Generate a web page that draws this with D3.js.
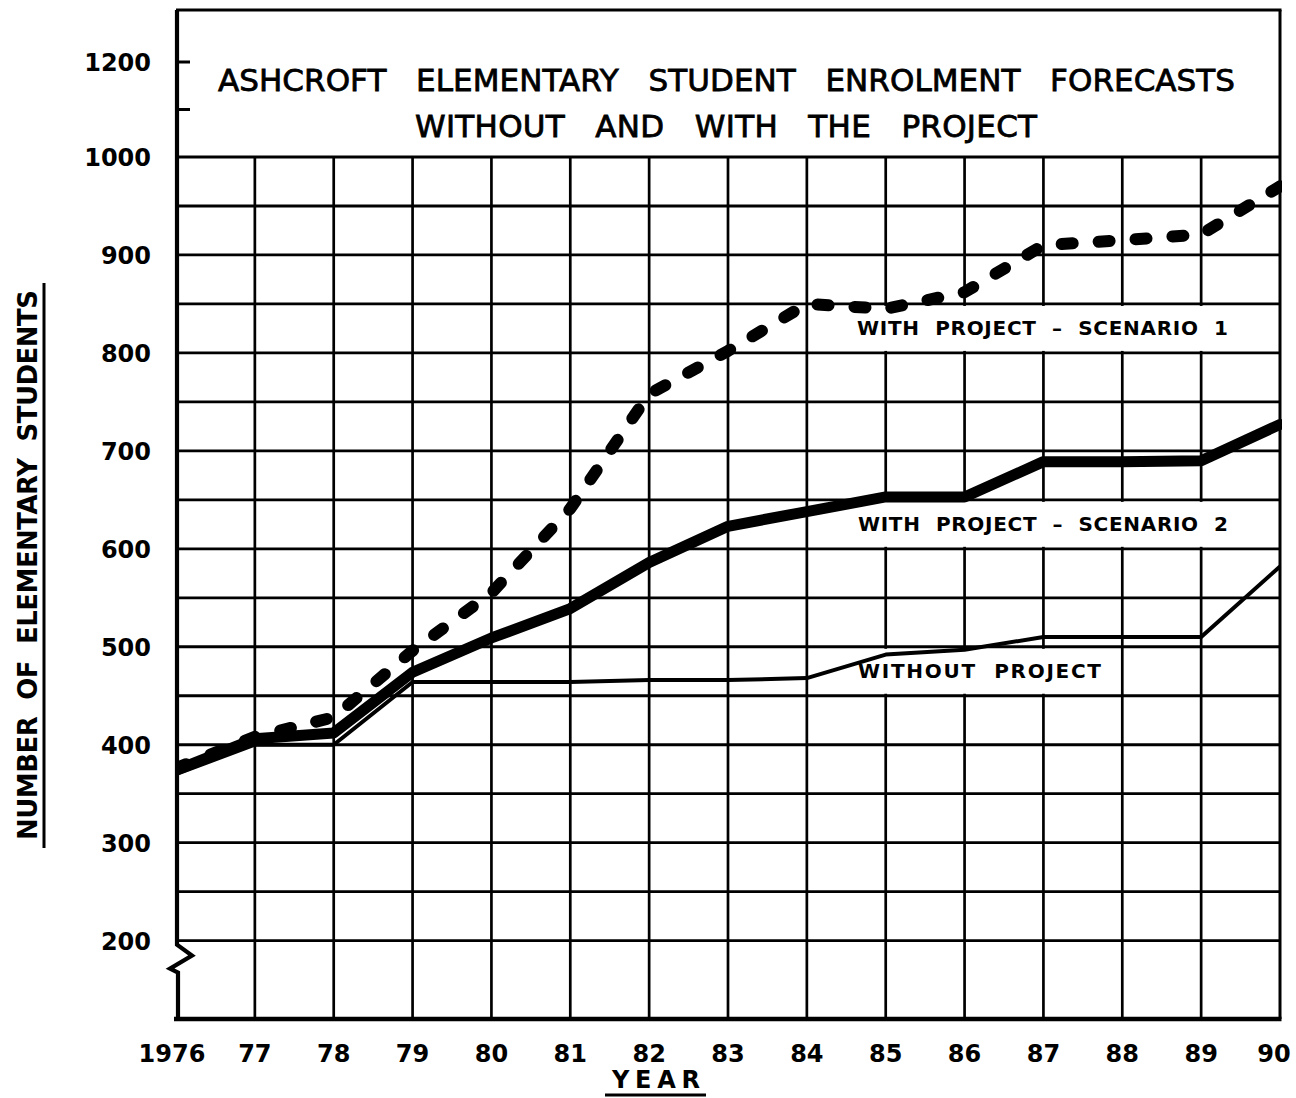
<!DOCTYPE html>
<html>
<head>
<meta charset="utf-8">
<script src="https://cdn.jsdelivr.net/npm/d3@7"></script>
<style>
  body { margin: 0; background: #fff; }
  svg { display: block; }
  text { font-family: "DejaVu Sans", sans-serif; fill: #000; white-space: pre; }
</style>
</head>
<body>
<svg id="chart" width="1296" height="1098"></svg>
<script>
// Enrolment forecasts, Ashcroft Elementary, 1976-1990
const years = [1976, 1977, 1978, 1979, 1980, 1981, 1982, 1983, 1984, 1985, 1986, 1987, 1988, 1989, 1990];
const yearLabels = ["1976", "77", "78", "79", "80", "81", "82", "83", "84", "85", "86", "87", "88", "89", "90"];
const withoutProject = [370, 400, 400, 464, 464, 464, 466, 466, 468, 492, 497, 510, 510, 510, 582];
const scenario2 = [374, 406, 412, 474, 509, 539, 586, 623, 638, 653, 653, 689, 689, 690, 727];
const scenario1 = [376, 408, 428, 496, 555, 641, 758, 802, 850, 845, 862, 910, 915, 921, 970];
const valueTicks = [200, 300, 400, 500, 600, 700, 800, 900, 1000, 1200];
const headerTicks = [1100, 1200];
const gridValues = [200, 250, 300, 350, 400, 450, 500, 550, 600, 650, 700, 750, 800, 850, 900, 950, 1000];
const titleLines = ["ASHCROFT   ELEMENTARY   STUDENT   ENROLMENT   FORECASTS", "WITHOUT   AND   WITH   THE   PROJECT"];
const seriesLabels = ["WITH  PROJECT  –  SCENARIO  1", "WITH  PROJECT  –  SCENARIO  2", "WITHOUT  PROJECT"];
const yAxisTitle = "NUMBER  OF  ELEMENTARY  STUDENTS";
const xAxisTitle = "YEAR";

const svg = d3.select("#chart");

// Year axis, and a value axis whose header part (above 1000) is compressed
const x = d3.scaleLinear().domain([1976, 1990]).range([176, 1280]);
const y = d3.scaleLinear().domain([120, 1000, 1200]).range([1019, 157, 62]);
const yTop = 10;

const ink = "#000";

// Vertical grid lines (one per year)
svg.append("g").selectAll("line").data(years.slice(1, -1)).join("line")
  .attr("x1", d => x(d)).attr("x2", d => x(d))
  .attr("y1", y(1000)).attr("y2", y(120))
  .attr("stroke", ink).attr("stroke-width", 2.7);

// White bands that carry the series captions
const bands = [
  { x0: 848, x1: 1278, v0: 850, v1: 800 },
  { x0: 848, x1: 1278, v0: 650, v1: 600 },
  { x0: 850, x1: 1118, v0: 500, v1: 450 }
];
svg.append("g").selectAll("rect").data(bands).join("rect")
  .attr("x", d => d.x0).attr("width", d => d.x1 - d.x0)
  .attr("y", d => y(d.v0) + 2).attr("height", d => y(d.v1) - y(d.v0) - 4)
  .attr("fill", "#fff");

// Horizontal grid lines every 50 students
svg.append("g").selectAll("line").data(gridValues).join("line")
  .attr("x1", x(1976)).attr("x2", x(1990))
  .attr("y1", d => y(d)).attr("y2", d => y(d))
  .attr("stroke", ink).attr("stroke-width", d => d === 1000 ? 3.2 : 2.8);

// Frame: top edge, right edge, bottom axis
svg.append("line").attr("x1", x(1976)).attr("x2", x(1990) + 1.5)
  .attr("y1", yTop).attr("y2", yTop).attr("stroke", ink).attr("stroke-width", 3);
svg.append("line").attr("x1", x(1990)).attr("x2", x(1990))
  .attr("y1", yTop).attr("y2", y(120)).attr("stroke", ink).attr("stroke-width", 3);
svg.append("line").attr("x1", x(1976) - 2).attr("x2", x(1990) + 1.5)
  .attr("y1", y(120)).attr("y2", y(120)).attr("stroke", ink).attr("stroke-width", 4.5);

// Left axis with a scale break just below 200
const ax = x(1976) + 1;
const breakPath = d3.path();
breakPath.moveTo(ax, yTop);
breakPath.lineTo(ax, y(200) + 4);
breakPath.lineTo(ax + 15, y(200) + 15);
breakPath.lineTo(ax - 7, y(200) + 28);
breakPath.lineTo(ax + 1, y(200) + 32);
breakPath.lineTo(ax + 1, y(120) + 2);
svg.append("path").attr("d", breakPath.toString())
  .attr("fill", "none").attr("stroke", ink).attr("stroke-width", 4.2)
  .attr("stroke-linejoin", "miter");

// Small ticks in the header part of the value axis
svg.append("g").selectAll("line").data(headerTicks).join("line")
  .attr("x1", ax).attr("x2", ax + 13)
  .attr("y1", d => y(d)).attr("y2", d => y(d))
  .attr("stroke", ink).attr("stroke-width", 3);

// Series lines
svg.append("clipPath").attr("id", "plot-clip").append("rect")
  .attr("x", x(1976)).attr("y", yTop)
  .attr("width", x(1990) - x(1976) + 2).attr("height", y(120) - yTop);

const line = d3.line().x((d, i) => x(years[i])).y(d => y(d));
const lines = svg.append("g").attr("clip-path", "url(#plot-clip)");

lines.append("path").datum(withoutProject).attr("d", line)
  .attr("fill", "none").attr("stroke", ink).attr("stroke-width", 4)
  .attr("stroke-linejoin", "round");
lines.append("path").datum(scenario2).attr("d", line)
  .attr("fill", "none").attr("stroke", ink).attr("stroke-width", 11)
  .attr("stroke-linejoin", "round").attr("stroke-linecap", "round");
lines.append("path").datum(scenario1).attr("d", line)
  .attr("fill", "none").attr("stroke", ink).attr("stroke-width", 12)
  .attr("stroke-linejoin", "round").attr("stroke-linecap", "round")
  .attr("stroke-dasharray", "11 26");

// Series captions
const captions = [
  { text: seriesLabels[0], x0: 857, len: 371, yb: y(825) + 7 },
  { text: seriesLabels[1], x0: 858, len: 370, yb: y(625) + 7 },
  { text: seriesLabels[2], x0: 858, len: 243, yb: y(475) + 7 }
];
svg.append("g").selectAll("text").data(captions).join("text")
  .attr("x", d => d.x0).attr("y", d => d.yb)
  .attr("textLength", d => d.len).attr("lengthAdjust", "spacing")
  .attr("font-size", 20).attr("font-weight", "bold")
  .text(d => d.text);

// Title
const titleRows = [
  { text: titleLines[0], x0: 218, len: 1017, yb: 91 },
  { text: titleLines[1], x0: 415, len: 622, yb: 137 }
];
svg.append("g").selectAll("text").data(titleRows).join("text")
  .attr("x", d => d.x0).attr("y", d => d.yb)
  .attr("textLength", d => d.len).attr("lengthAdjust", "spacing")
  .attr("font-size", 31)
  .style("stroke", ink).style("stroke-width", 0.8)
  .text(d => d.text);

// Value tick labels
svg.append("g").selectAll("text").data(valueTicks).join("text")
  .attr("x", 151).attr("y", d => y(d) + 9)
  .attr("text-anchor", "end")
  .attr("font-size", 24).attr("font-weight", "bold")
  .text(d => d);

// Year tick labels
svg.append("g").selectAll("text").data(years).join("text")
  .attr("x", (d, i) => Math.min(x(d) - (i === 0 ? 4 : 0), 1296 - 22))
  .attr("y", 1062)
  .attr("text-anchor", "middle")
  .attr("font-size", 24).attr("font-weight", "bold")
  .text((d, i) => yearLabels[i]);

// Axis titles with underlines
svg.append("text")
  .attr("x", 656).attr("y", 1088)
  .attr("text-anchor", "middle")
  .attr("textLength", 88).attr("lengthAdjust", "spacing")
  .attr("font-size", 24).attr("font-weight", "bold")
  .text(xAxisTitle);
svg.append("line").attr("x1", 605).attr("x2", 706)
  .attr("y1", 1095).attr("y2", 1095).attr("stroke", ink).attr("stroke-width", 3);

svg.append("text")
  .attr("transform", "translate(37,565) rotate(-90)")
  .attr("text-anchor", "middle")
  .attr("textLength", 550).attr("lengthAdjust", "spacing")
  .attr("font-size", 26).attr("font-weight", "bold")
  .text(yAxisTitle);
svg.append("line").attr("x1", 44).attr("x2", 44)
  .attr("y1", 283).attr("y2", 848).attr("stroke", ink).attr("stroke-width", 3);
</script>
</body>
</html>
